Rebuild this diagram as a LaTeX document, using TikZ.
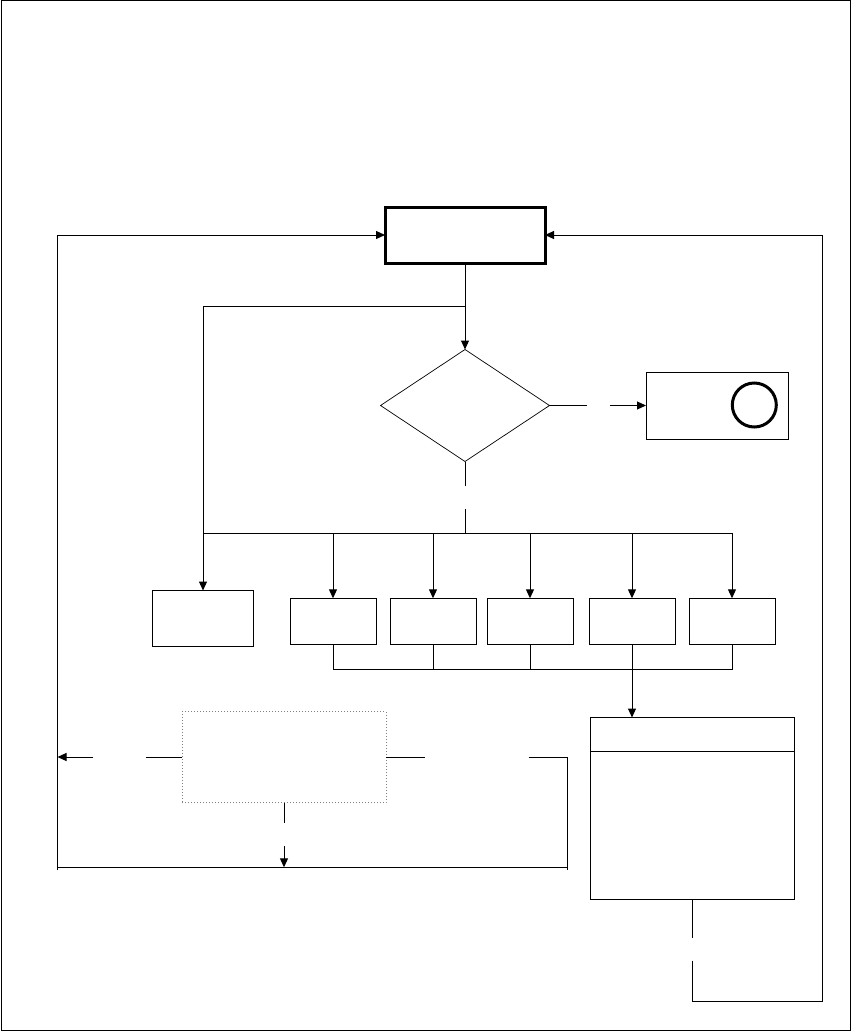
\documentclass[tikz,border=0pt]{standalone}
\usetikzlibrary{arrows.meta,shapes.geometric}
\begin{document}
\begin{tikzpicture}[x=1pt,y=-1pt,
  ln/.style={line width=1pt},
  arr/.style={line width=1pt,-{Triangle[length=9pt,width=8pt]}},
  box/.style={draw,line width=1pt,inner sep=0pt,outer sep=0pt,rectangle},
  thickbox/.style={draw,line width=3pt,inner sep=0pt,outer sep=0pt,rectangle},
  dec/.style={draw,line width=0.7pt,diamond,inner sep=0pt,outer sep=0pt},
  dotbox/.style={draw=gray,dotted,line width=1pt,inner sep=0pt,outer sep=0pt,rectangle}]
\useasboundingbox (0,0) rectangle (852,1033);
\draw[ln] (1.5,0.5) rectangle (850,1030.5);
% nodes
\node[thickbox,minimum width=160pt,minimum height=56pt] (top) at (465,235) {};
\node[dec,minimum width=169pt,minimum height=112pt] (dia) at (465,405.5) {};
\node[box,minimum width=142pt,minimum height=67pt] (yes) at (717,405.5) {};
\node[draw,circle,line width=3pt,minimum size=44pt,inner sep=0pt] (circ) at (754.3,405) {};
\node[box,minimum width=101pt,minimum height=56pt] (lb) at (203,618.5) {};
\node[box,minimum width=86pt,minimum height=46pt] (b1) at (333,621.3) {};
\node[box,minimum width=86pt,minimum height=46pt] (b2) at (433,621.3) {};
\node[box,minimum width=86pt,minimum height=46pt] (b3) at (530,621.3) {};
\node[box,minimum width=86pt,minimum height=46pt] (b4) at (632,621.3) {};
\node[box,minimum width=86pt,minimum height=46pt] (b5) at (732,621.3) {};
\node[box,minimum width=204pt,minimum height=182pt] (big) at (692.5,808.5) {};
\draw[ln] (big.west |- 0,751.3) -- (big.east |- 0,751.3);
\node[dotbox,minimum width=204pt,minimum height=91pt] (dot) at (284,757) {};
% coordinates
\coordinate (sp) at (465,306.7);
\coordinate (g1a) at (586.7,405.5);
\coordinate (g1b) at (610,405.5);
\coordinate (g2a) at (465,486);
\coordinate (g2b) at (465,509.3);
\coordinate (br) at (465,533);
\coordinate (brR) at (732,533);
\coordinate (mL) at (333,669.3);
\coordinate (mR) at (732,669.3);
\coordinate (l1) at (146,757);
\coordinate (l2) at (93,757);
\coordinate (lt) at (57.5,757);
\coordinate (r1) at (425,757);
\coordinate (r2) at (528.6,757);
\coordinate (bl) at (57.5,870);
\coordinate (blh) at (57.5,867.3);
\coordinate (brh) at (567.5,867.3);
\coordinate (brc) at (567.5,870);
\coordinate (d1) at (284,823.3);
\coordinate (d2) at (284,846);
\coordinate (d3) at (284,867.3);
\coordinate (e1) at (692.5,938);
\coordinate (e2) at (692.5,960.7);
\coordinate (e3) at (822,1001);
% connectors
\draw[arr] (top.south) -- (dia.north);
\draw[ln] (sp) -- (sp -| lb.north);
\draw[arr] (sp -| lb.north) -- (lb.north);
\draw[ln] (dia.east) -- (g1a);
\draw[arr] (g1b) -- (yes.west);
\draw[ln] (dia.south) -- (g2a);
\draw[ln] (g2b) -- (br);
\draw[ln] (br -| lb.north) -- (brR);
\foreach \b in {b1,b2,b3,b4,b5}{\draw[arr] (br -| \b.north) -- (\b.north);}
\draw[ln] (b1.south) -- (mL) -- (mR) -- (b5.south);
\draw[ln] (b2.south) -- (b2.south |- mL);
\draw[ln] (b3.south) -- (b3.south |- mL);
\draw[arr] (b4.south) -- (b4.south |- big.north);
\draw[ln] (dot.west) -- (l1);
\draw[arr] (l2) -- (lt);
\draw[ln] (dot.east) -- (r1);
\draw[ln] (r2) -| (brc);
\draw[ln] (blh) -- (brh);
\draw[arr] (bl) |- (top.west);
\draw[ln] (dot.south) -- (d1);
\draw[arr] (d2) -- (d3);
\draw[ln] (big.south) -- (e1);
\draw[arr] (e2) |- (e3) |- (top.east);
\end{tikzpicture}
\end{document}
